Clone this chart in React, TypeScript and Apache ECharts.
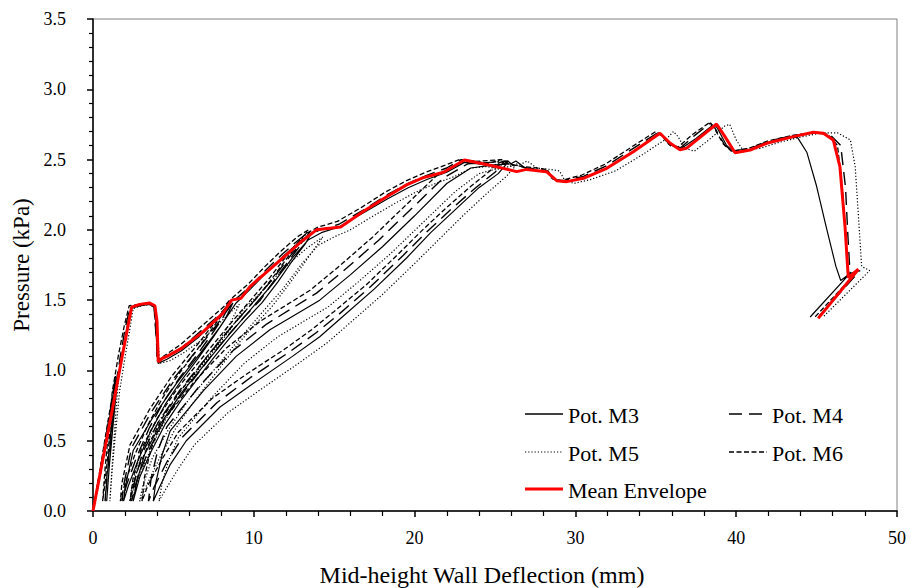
import React, { useEffect, useRef } from "react";
import * as echarts from "echarts";

// ---------- Data (deflection mm, pressure kPa) ----------
const xTicks = [0, 10, 20, 30, 40, 50];
const yTicks = [0, 0.5, 1.0, 1.5, 2.0, 2.5, 3.0, 3.5];

const m3Data: number[][] = [
  [0, 0], [0.4, 0.24], [0.8, 0.5], [1.2, 0.76], [1.5, 0.95],
  [1.3, 0.72], [1.1, 0.45], [0.95, 0.22], [0.85, 0.07],
  [1.0, 0.3], [1.2, 0.55], [1.45, 0.85], [1.8, 1.1], [2.1, 1.3], [2.35, 1.44],
  [2.9, 1.46], [3.5, 1.47], [3.85, 1.45], [3.98, 1.2], [4.05, 1.05],
  [4.6, 1.08], [5.5, 1.14], [6.6, 1.24], [7.6, 1.35], [8.4, 1.44], [8.7, 1.48],
  [8.2, 1.36], [7.5, 1.24], [6.5, 1.08], [5.5, 0.93], [4.5, 0.76], [3.6, 0.57], [2.8, 0.36], [2.2, 0.18], [1.9, 0.07],
  [2.0, 0.17], [2.5, 0.43], [3.75, 0.67], [5.2, 0.91], [6.65, 1.12], [7.9, 1.31], [8.9, 1.48], [9.8, 1.58], [10.8, 1.7], [11.8, 1.81], [12.8, 1.91], [13.6, 1.98],
  [13.2, 1.9], [12.4, 1.78], [11.5, 1.63], [10.5, 1.48], [9.5, 1.36], [8.5, 1.23], [7.5, 1.09], [6.5, 0.94], [5.5, 0.79], [4.5, 0.62], [3.6, 0.42], [2.9, 0.24], [2.5, 0.07],
  [2.7, 0.2], [3.2, 0.4], [4.2, 0.62], [5.5, 0.84], [7.0, 1.05], [8.5, 1.26], [10.0, 1.46], [11.2, 1.62], [12.4, 1.8], [13.4, 1.93], [14.2, 1.98],
  [15.3, 2.02], [16.8, 2.12], [18.3, 2.22], [19.6, 2.3], [20.8, 2.36], [22.0, 2.41], [23.1, 2.48], [24.0, 2.47], [25.0, 2.45], [25.8, 2.48],
  [25.2, 2.4], [24.0, 2.3], [22.5, 2.14], [21.0, 1.98], [19.5, 1.8], [17.5, 1.58], [15.5, 1.38], [14.1, 1.24], [12.4, 1.1], [10.0, 0.91], [7.9, 0.74], [5.8, 0.5], [4.8, 0.33], [4.1, 0.16], [3.75, 0.07],
  [3.9, 0.2], [4.3, 0.4], [4.8, 0.57], [6.9, 0.86], [8.9, 1.1], [11.0, 1.29], [14.1, 1.5], [16.0, 1.68], [18.0, 1.88], [20.0, 2.1], [22.0, 2.33], [23.5, 2.44], [24.8, 2.46], [26.0, 2.47], [26.3, 2.49],
  [27.0, 2.43], [27.8, 2.42], [28.3, 2.41], [28.6, 2.36], [29.3, 2.34], [30.5, 2.37], [32.0, 2.44], [33.6, 2.56], [35.2, 2.68], [35.5, 2.66], [36.0, 2.6], [36.6, 2.58], [37.5, 2.65], [38.5, 2.74], [38.8, 2.73], [39.4, 2.6], [39.9, 2.55], [40.9, 2.57], [42.0, 2.62], [43.0, 2.65], [43.8, 2.66],
  [44.4, 2.55], [45.0, 2.31], [45.6, 2.02], [46.2, 1.74], [46.5, 1.64], [47.08, 1.69], [44.6, 1.38],
];

const m4Data: number[][] = [
  [0, 0], [0.4, 0.26], [0.8, 0.53], [1.2, 0.8], [1.45, 0.96],
  [1.25, 0.72], [1.05, 0.45], [0.85, 0.2], [0.75, 0.07],
  [0.9, 0.3], [1.1, 0.55], [1.35, 0.85], [1.7, 1.1], [2.0, 1.3], [2.3, 1.45],
  [2.9, 1.46], [3.5, 1.47], [3.8, 1.45], [3.95, 1.2], [4.0, 1.06],
  [4.6, 1.1], [5.5, 1.16], [6.6, 1.27], [7.6, 1.37], [8.3, 1.45], [8.6, 1.49],
  [8.1, 1.38], [7.4, 1.26], [6.4, 1.1], [5.4, 0.95], [4.4, 0.78], [3.5, 0.59], [2.7, 0.38], [2.1, 0.19], [1.8, 0.07],
  [1.9, 0.18], [2.4, 0.45], [3.6, 0.7], [5.0, 0.94], [6.5, 1.15], [7.8, 1.34], [8.8, 1.5], [9.8, 1.6], [10.8, 1.72], [11.8, 1.83], [12.8, 1.93], [13.5, 1.99],
  [13.1, 1.92], [12.3, 1.8], [11.4, 1.66], [10.4, 1.5], [9.4, 1.38], [8.4, 1.25], [7.4, 1.11], [6.4, 0.96], [5.4, 0.81], [4.4, 0.64], [3.5, 0.44], [2.8, 0.25], [2.4, 0.07],
  [2.6, 0.22], [3.1, 0.42], [4.1, 0.64], [5.4, 0.86], [6.9, 1.07], [8.4, 1.28], [9.9, 1.48], [11.1, 1.64], [12.3, 1.82], [13.3, 1.95], [14.1, 2.0],
  [15.3, 2.04], [16.8, 2.14], [18.3, 2.25], [19.6, 2.33], [20.8, 2.39], [22.0, 2.44], [22.9, 2.5], [23.8, 2.48], [24.8, 2.46], [25.6, 2.49],
  [25.0, 2.41], [23.8, 2.3], [22.3, 2.15], [20.8, 1.99], [19.3, 1.82], [17.3, 1.6], [15.3, 1.4], [13.9, 1.27], [12.2, 1.13], [9.8, 0.95], [7.7, 0.77], [5.6, 0.53], [4.6, 0.35], [3.8, 0.17], [3.45, 0.07],
  [3.6, 0.22], [4.0, 0.42], [4.6, 0.6], [6.7, 0.9], [8.7, 1.14], [10.8, 1.33], [13.9, 1.55], [15.8, 1.73], [17.8, 1.93], [19.8, 2.15], [21.8, 2.37], [23.3, 2.47], [24.6, 2.48], [25.8, 2.49], [26.1, 2.46],
  [27.0, 2.44], [27.8, 2.43], [28.3, 2.42], [28.6, 2.36], [29.2, 2.35], [30.5, 2.38], [32.0, 2.46], [33.6, 2.58], [35.1, 2.69], [35.4, 2.67], [35.9, 2.6], [36.5, 2.58], [37.4, 2.67], [38.4, 2.76], [38.7, 2.72], [39.3, 2.6], [39.8, 2.56], [40.9, 2.58], [42.0, 2.63], [43.5, 2.67], [44.8, 2.69], [45.8, 2.68],
  [46.5, 2.6], [46.8, 2.3], [46.95, 1.95], [47.08, 1.69], [47.7, 1.71], [45.1, 1.38],
];

const m5Data: number[][] = [
  [0, 0], [0.4, 0.22], [0.8, 0.46], [1.2, 0.72], [1.6, 0.96],
  [1.45, 0.75], [1.3, 0.5], [1.15, 0.25], [1.05, 0.07],
  [1.2, 0.3], [1.4, 0.55], [1.65, 0.85], [2.0, 1.1], [2.3, 1.3], [2.5, 1.44],
  [3.0, 1.46], [3.6, 1.47], [3.9, 1.45], [4.05, 1.2], [4.15, 1.05],
  [4.8, 1.07], [5.7, 1.13], [6.8, 1.22], [7.8, 1.33], [8.7, 1.43], [9.1, 1.47],
  [8.6, 1.35], [7.9, 1.22], [6.9, 1.06], [5.9, 0.9], [4.9, 0.73], [4.0, 0.54], [3.2, 0.34], [2.6, 0.17], [2.3, 0.07],
  [2.4, 0.16], [2.9, 0.4], [4.1, 0.64], [5.6, 0.88], [7.1, 1.08], [8.4, 1.27], [9.4, 1.44], [10.3, 1.54], [11.3, 1.66], [12.3, 1.77], [13.3, 1.87], [14.3, 1.95],
  [13.8, 1.87], [13.0, 1.74], [12.1, 1.6], [11.1, 1.45], [10.1, 1.33], [9.1, 1.2], [8.1, 1.05], [7.1, 0.9], [6.1, 0.75], [5.1, 0.58], [4.2, 0.39], [3.4, 0.2], [2.9, 0.07],
  [3.1, 0.18], [3.7, 0.38], [4.7, 0.58], [6.0, 0.8], [7.5, 1.0], [9.0, 1.21], [10.5, 1.41], [11.8, 1.58], [13.0, 1.76], [14.0, 1.89], [15.0, 1.95],
  [16.0, 2.0], [17.3, 2.09], [18.8, 2.19], [20.1, 2.27], [21.3, 2.33], [22.5, 2.38], [23.5, 2.44], [24.5, 2.45], [25.3, 2.43], [26.4, 2.47],
  [25.7, 2.38], [24.5, 2.26], [23.0, 2.1], [21.5, 1.93], [20.0, 1.76], [18.0, 1.54], [16.0, 1.34], [14.6, 1.2], [12.9, 1.06], [10.5, 0.87], [8.4, 0.7], [6.3, 0.47], [5.3, 0.3], [4.5, 0.15], [4.1, 0.07],
  [4.3, 0.2], [4.7, 0.36], [5.3, 0.52], [7.4, 0.81], [9.4, 1.05], [11.5, 1.24], [14.6, 1.45], [16.5, 1.63], [18.5, 1.83], [20.5, 2.05], [22.5, 2.27], [24.0, 2.4], [25.3, 2.44], [26.5, 2.46], [27.0, 2.49],
  [27.6, 2.44], [28.4, 2.43], [29.0, 2.42], [29.3, 2.36], [29.9, 2.33], [31.0, 2.36], [32.5, 2.42], [34.1, 2.53], [35.7, 2.65], [36.1, 2.7], [36.4, 2.66], [36.8, 2.58], [37.4, 2.56], [38.3, 2.64], [39.3, 2.74], [39.6, 2.75], [40.0, 2.64], [40.4, 2.57], [41.5, 2.58], [42.6, 2.62], [44.0, 2.66], [45.3, 2.69], [46.3, 2.69],
  [47.1, 2.64], [47.4, 2.45], [47.6, 2.1], [47.8, 1.74], [48.3, 1.71], [45.4, 1.38],
];

const m6Data: number[][] = [
  [0, 0], [0.4, 0.27], [0.8, 0.55], [1.2, 0.82], [1.4, 0.96],
  [1.15, 0.7], [0.95, 0.43], [0.75, 0.2], [0.6, 0.07],
  [0.75, 0.3], [0.95, 0.55], [1.2, 0.85], [1.6, 1.12], [1.95, 1.32], [2.25, 1.46],
  [2.9, 1.47], [3.5, 1.48], [3.8, 1.46], [3.95, 1.22], [4.0, 1.07],
  [4.5, 1.11], [5.4, 1.18], [6.5, 1.29], [7.5, 1.39], [8.2, 1.46], [8.5, 1.5],
  [8.0, 1.39], [7.3, 1.28], [6.3, 1.12], [5.3, 0.97], [4.3, 0.8], [3.4, 0.61], [2.6, 0.4], [2.0, 0.2], [1.7, 0.07],
  [1.8, 0.2], [2.3, 0.47], [3.5, 0.72], [4.9, 0.96], [6.4, 1.17], [7.7, 1.36], [8.7, 1.52], [9.7, 1.62], [10.7, 1.74], [11.7, 1.85], [12.7, 1.95], [13.4, 2.0],
  [13.0, 1.93], [12.2, 1.82], [11.3, 1.68], [10.3, 1.53], [9.3, 1.4], [8.3, 1.27], [7.3, 1.13], [6.3, 0.98], [5.3, 0.83], [4.3, 0.66], [3.4, 0.46], [2.7, 0.27], [2.3, 0.07],
  [2.5, 0.24], [3.0, 0.44], [4.0, 0.66], [5.3, 0.88], [6.8, 1.09], [8.3, 1.3], [9.8, 1.5], [11.0, 1.66], [12.2, 1.84], [13.2, 1.97], [14.0, 2.02],
  [15.2, 2.06], [16.7, 2.16], [18.2, 2.27], [19.5, 2.35], [20.7, 2.41], [21.9, 2.46], [22.8, 2.5], [23.7, 2.49], [24.6, 2.47], [25.3, 2.5],
  [24.7, 2.42], [23.5, 2.31], [22.0, 2.16], [20.5, 2.0], [19.0, 1.83], [17.0, 1.61], [15.0, 1.42], [13.6, 1.29], [11.9, 1.15], [9.5, 0.97], [7.4, 0.8], [5.3, 0.56], [4.3, 0.37], [3.4, 0.18], [3.05, 0.07],
  [3.2, 0.24], [3.6, 0.44], [4.2, 0.62], [6.3, 0.92], [8.3, 1.16], [10.4, 1.35], [13.5, 1.57], [15.4, 1.75], [17.4, 1.95], [19.4, 2.17], [21.4, 2.39], [22.9, 2.48], [24.2, 2.49], [25.4, 2.5], [25.8, 2.47],
  [26.7, 2.45], [27.6, 2.44], [28.2, 2.43], [28.5, 2.37], [29.1, 2.35], [30.4, 2.39], [31.9, 2.47], [33.5, 2.59], [35.0, 2.7], [35.3, 2.68], [35.8, 2.61], [36.4, 2.59], [37.3, 2.68], [38.3, 2.76], [38.6, 2.73], [39.2, 2.61], [39.7, 2.56], [40.8, 2.58], [41.9, 2.63], [43.4, 2.67], [44.7, 2.69], [45.7, 2.68],
  [46.3, 2.6], [46.6, 2.3], [46.8, 1.95], [46.95, 1.67], [47.5, 1.7], [44.9, 1.38],
];

const meanEnvelope: number[][] = [
  [0, 0], [0.6, 0.36], [1.2, 0.72], [1.8, 1.09], [2.4, 1.45], [2.9, 1.47], [3.5, 1.48], [3.85, 1.46], [3.98, 1.35], [4.06, 1.06],
  [4.3, 1.085], [4.6, 1.1], [5.5, 1.157], [6.86, 1.276], [8.1, 1.41], [8.62, 1.5], [9.2, 1.513], [9.76, 1.596], [11.42, 1.762], [13.08, 1.928], [13.9, 2.0],
  [15.4, 2.02], [16.8, 2.13], [18.26, 2.236], [19.5, 2.32], [20.5, 2.37], [21.8, 2.41], [23.1, 2.497], [24.7, 2.46], [26.35, 2.414], [26.97, 2.43], [28.2, 2.414],
  [28.84, 2.35], [29.46, 2.343], [30.5, 2.367], [31.95, 2.438], [33.6, 2.556], [35.26, 2.687], [35.9, 2.616], [36.5, 2.57], [36.9, 2.58], [38.78, 2.753],
  [39.3, 2.663], [39.93, 2.549], [40.87, 2.568], [41.9, 2.616], [43.55, 2.663], [44.8, 2.694], [45.42, 2.687], [46.04, 2.639], [46.45, 2.449], [46.77, 2.02],
  [46.97, 1.66], [47.6, 1.72], [45.1, 1.37],
];

const legendNames = ["Pot. M3", "Pot. M4", "Pot. M5", "Pot. M6", "Mean Envelope"];

const FONT = "Liberation Serif";

const DASH_M4 = [13, 7];
const DASH_M5 = [1.2, 2];
const DASH_M6 = [5, 2.5];

export default function App() {
  const ref = useRef<HTMLDivElement>(null);

  useEffect(() => {
    if (!ref.current) return;
    const chart = echarts.init(ref.current, undefined, { renderer: "svg" });

    const blackLine = (name: string, data: number[][], type: any, width = 1.2) => ({
      name,
      type: "line",
      data,
      symbol: "none",
      showSymbol: false,
      smooth: false,
      z: 2,
      lineStyle: { color: "#000000", width, type },
      itemStyle: { color: "#000000" },
      emphasis: { disabled: true },
    });

    const legendStyles: Record<string, { dash: number[] | null; color: string; width: number; col: number; row: number }> = {
      "Pot. M3": { dash: null, color: "#000", width: 1.4, col: 0, row: 0 },
      "Pot. M4": { dash: DASH_M4, color: "#000", width: 1.6, col: 1, row: 0 },
      "Pot. M5": { dash: DASH_M5, color: "#000", width: 1.2, col: 0, row: 1 },
      "Pot. M6": { dash: DASH_M6, color: "#000", width: 1.4, col: 1, row: 1 },
      "Mean Envelope": { dash: null, color: "#ff0000", width: 3, col: 0, row: 2 },
    };
    const colX = [525, 729];
    const rowY = [414, 452, 489];
    const legendGraphics: any[] = [];
    legendNames.forEach((n) => {
      const s = legendStyles[n];
      const x0 = colX[s.col];
      const y0 = rowY[s.row];
      legendGraphics.push({
        type: "line",
        shape: { x1: x0, y1: y0, x2: x0 + 38, y2: y0 },
        style: { stroke: s.color, lineWidth: s.width, lineDash: s.dash || undefined },
        silent: true,
      });
      legendGraphics.push({
        type: "text",
        x: x0 + 43,
        y: y0 + 1,
        style: {
          text: n,
          fill: "#000",
          fontFamily: FONT,
          fontSize: 22,
          verticalAlign: "middle",
          align: "left",
        },
        silent: true,
      });
    });

    chart.setOption({
      animation: false,
      backgroundColor: "#ffffff",
      textStyle: { fontFamily: FONT },
      grid: {
        left: 93,
        right: 15,
        top: 19,
        bottom: 77,
        show: true,
        borderColor: "#808080",
        borderWidth: 1,
        backgroundColor: "transparent",
        containLabel: false,
        outerBoundsMode: "none",
      },
      xAxis: {
        type: "value",
        min: xTicks[0],
        max: xTicks[xTicks.length - 1],
        interval: 10,
        name: "Mid-height Wall Deflection (mm)",
        nameLocation: "middle",
        nameGap: 52,
        nameTextStyle: { fontFamily: FONT, fontSize: 24, color: "#000", padding: [0, 26, 0, 0] },
        axisLine: { show: true, onZero: false, lineStyle: { color: "#000", width: 1.5 } },
        axisTick: { show: true, inside: false, length: 6, lineStyle: { color: "#000", width: 1.5 } },
        minorTick: { show: true, splitNumber: 5, length: 5, lineStyle: { color: "#000", width: 1.2 } },
        splitLine: { show: false },
        axisLabel: { fontFamily: FONT, fontSize: 18, color: "#000", margin: 18 },
      },
      yAxis: {
        type: "value",
        min: yTicks[0],
        max: yTicks[yTicks.length - 1],
        interval: 0.5,
        name: "Pressure (kPa)",
        nameLocation: "middle",
        nameGap: 59,
        nameTextStyle: { fontFamily: FONT, fontSize: 23, color: "#000" },
        axisLine: { show: true, onZero: false, lineStyle: { color: "#000", width: 1.5 } },
        axisTick: { show: true, inside: false, length: 6, lineStyle: { color: "#000", width: 1.5 } },
        minorTick: { show: true, splitNumber: 5, length: 4, lineStyle: { color: "#000", width: 1.2 } },
        splitLine: { show: false },
        axisLabel: {
          fontFamily: FONT,
          fontSize: 18,
          color: "#000",
          margin: 27,
          formatter: (v: number) => v.toFixed(1),
        },
      },
      graphic: legendGraphics,
      series: [
        blackLine("Pot. M3", m3Data, "solid", 1.2),
        blackLine("Pot. M4", m4Data, DASH_M4, 1.4),
        blackLine("Pot. M5", m5Data, DASH_M5, 1.2),
        blackLine("Pot. M6", m6Data, DASH_M6, 1.3),
        {
          name: "Mean Envelope",
          type: "line",
          data: meanEnvelope,
          symbol: "none",
          showSymbol: false,
          z: 5,
          lineStyle: { color: "#ff0000", width: 3 },
          itemStyle: { color: "#ff0000" },
          emphasis: { disabled: true },
        },
      ],
    });

    return () => chart.dispose();
  }, []);

  return (
    <div
      ref={ref}
      style={{ position: "fixed", left: 0, top: 0, width: 912, height: 588, background: "#fff" }}
    />
  );
}
